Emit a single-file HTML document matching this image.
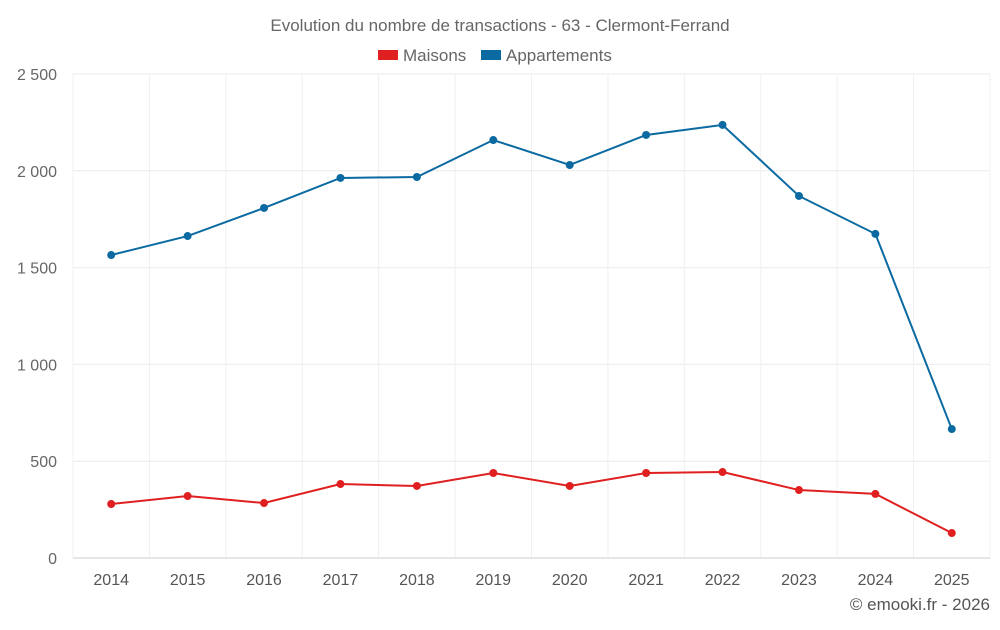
<!DOCTYPE html>
<html><head><meta charset="utf-8"><style>
html,body{margin:0;padding:0;background:#fff;}
svg text{font-family:"Liberation Sans",sans-serif;}
</style></head><body>
<svg id="chart" width="1000" height="625" xmlns="http://www.w3.org/2000/svg">
<text x="500" y="31" text-anchor="middle" font-size="17" fill="#666">Evolution du nombre de transactions - 63 - Clermont-Ferrand</text>
<g>
<g><rect x="378" y="50" width="20" height="10" fill="#e02020"/><text x="403" y="61" font-size="17" fill="#666">Maisons</text></g>
<g><rect x="481" y="50" width="20" height="10" fill="#0a6aa1"/><text x="506" y="61" font-size="17" fill="#666">Appartements</text></g>
</g>
<g id="grid"></g><g id="axes"></g><g id="series"></g>
<text x="990" y="610" text-anchor="end" font-size="17" fill="#555">© emooki.fr - 2026</text>
</svg>
<script>
const years=[2014,2015,2016,2017,2018,2019,2020,2021,2022,2023,2024,2025];
const maisons=[279,320,284,382,372,439,372,439,444,351,331,129];
const appartements=[1565,1663,1808,1963,1968,2159,2030,2185,2237,1870,1674,666];
const yTicks=[0,500,1000,1500,2000,2500];
const yTickLabels=["0","500","1 000","1 500","2 000","2 500"];
const NS="http://www.w3.org/2000/svg";
const L=73,R=990,T=74,B=558,yMax=2500;
const band=(R-L)/years.length;
function x(i){return L+band*(i+0.5);}
function y(v){return B-(v/yMax)*(B-T);}
function mk(tag,attrs,parent){const e=document.createElementNS(NS,tag);for(const k in attrs)e.setAttribute(k,attrs[k]);parent.appendChild(e);return e;}
const grid=document.getElementById('grid'),axes=document.getElementById('axes'),series=document.getElementById('series');
yTicks.forEach((t,i)=>{
 const ln=mk('line',{x1:L,x2:R,y1:y(t),y2:y(t),stroke:'#ebebeb','stroke-width':1},grid);
 
 
 const tx=mk('text',{x:57,y:y(t)+6,'text-anchor':'end','font-size':16,fill:'#666'},axes);
 tx.textContent=yTickLabels[i];
 
 
});
for(let i=0;i<=years.length;i++){
 const gx=L+band*i;
 const ln=mk('line',{x1:gx,x2:gx,y1:T,y2:B,stroke:'#f0f0f0','stroke-width':1},grid);
 
 
}
years.forEach((yr,i)=>{
 const tx=mk('text',{x:x(i),y:585,'text-anchor':'middle','font-size':16,fill:'#555'},axes);
 tx.textContent=yr;
 
 
});
const ax=mk('line',{x1:L,x2:R,y1:B,y2:B,stroke:'#ccc','stroke-width':1},axes);


function drawSeries(vals,color,name){
 const p=mk('polyline',{points:vals.map((v,i)=>x(i)+','+y(v)).join(' '),fill:'none',stroke:color,'stroke-width':2},series);
 
 
 vals.forEach((v,i)=>{
  const c=mk('circle',{cx:x(i),cy:y(v),r:4,fill:color},series);
  
  
 });
}
drawSeries(maisons,'#e02020','maisons');
drawSeries(appartements,'#0a6aa1','appartements');
</script>
</body></html>
